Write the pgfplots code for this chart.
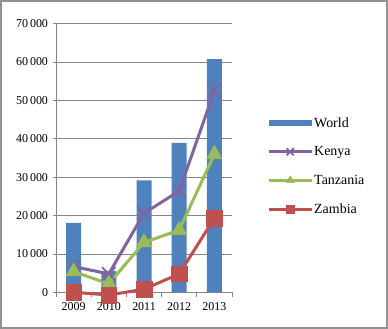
\documentclass[border=0pt]{standalone}
\usepackage{fontspec}
\setmainfont{Liberation Serif}
\usepackage{pgfplots}
\pgfplotsset{compat=1.18}
\definecolor{cWorld}{HTML}{4F81BD}
\definecolor{cKenya}{HTML}{8064A2}
\definecolor{cTanz}{HTML}{9BBB59}
\definecolor{cZamb}{HTML}{C0504D}
\definecolor{cGrid}{HTML}{868686}
\pgfplotsset{
  linelegend/.style={legend image code/.code={%
    \draw[##1, mark=none] (0bp,0bp) -- (43bp,0bp);
    \draw[##1, mark size=#1] plot coordinates {(21.5bp,0bp)};}},
  barlegend/.style={legend image code/.code={%
    \fill[cWorld] (0bp,-3.2bp) rectangle (43bp,3.2bp);}},
}
\begin{document}
\begin{tikzpicture}
\useasboundingbox (0,0) rectangle (388bp,329bp);
\draw[cGrid!90, line width=1.6bp] (0.8bp,0.8bp) rectangle (387.2bp,328.2bp);
\begin{axis}[
  at={(56bp,36.7bp)}, anchor=south west,
  scale only axis, width=176bp, height=268.6bp,
  xmin=-0.5, xmax=4.5, ymin=0, ymax=70000,
  axis x line=bottom, axis y line=left,
  axis line style={cGrid, line width=0.8bp, -},
  xtick={0,1,2,3,4},
  xticklabels={2009,2010,2011,2012,2013},
  minor xtick={-0.5,0.5,1.5,2.5,3.5,4.5},
  ytick={0,10000,...,70000},
  ymajorgrids,
  major grid style={cGrid, line width=0.7bp},
  tick align=outside,
  major tick length=3bp, minor tick length=4.5bp,
  every major x tick/.style={draw=none},
  tick style={cGrid, line width=0.8bp},
  scaled y ticks=false,
  /pgf/number format/assume math mode=true,
  /pgf/number format/1000 sep={\,},
  ticklabel style={font=\fontsize{12}{14}\selectfont},
  yticklabel style={xshift=-1.5bp},
  xticklabel style={yshift=-3.5bp},
  clip=false,
  legend style={at={(1.199,0.47)}, anchor=west, draw=none, fill=none,
    inner sep=0pt, row sep=17.8bp, font=\fontsize{14}{16}\selectfont,
    nodes={inner xsep=1bp, inner ysep=0pt}},
  legend cell align=left,
]
\addplot[ybar, bar width=15bp, bar shift=0pt, fill=cWorld, draw=none, barlegend]
  coordinates {(0,18100) (1,5600) (2,29200) (3,38950) (4,60750)};
\addlegendentry{World}
\addplot[cKenya, line width=3bp, mark=x, mark size=9.5bp, mark options={line width=1.8bp}, linelegend=5bp]
  coordinates {(0,6700) (1,4800) (2,20600) (3,26400) (4,52500)};
\addlegendentry{Kenya}
\addplot[cTanz, line width=3bp, mark=triangle*, mark size=8.8bp, mark options={line width=0.5bp}, linelegend=4.5bp]
  coordinates {(0,5400) (1,2200) (2,13000) (3,16200) (4,36000)};
\addlegendentry{Tanzania}
\addplot[cZamb, line width=3bp, mark=square*, mark size=7.8bp, mark options={line width=0.5bp}, linelegend=4bp]
  coordinates {(0,0) (1,-700) (2,800) (3,4800) (4,19300)};
\addlegendentry{Zambia}
\end{axis}
\end{tikzpicture}
\end{document}
